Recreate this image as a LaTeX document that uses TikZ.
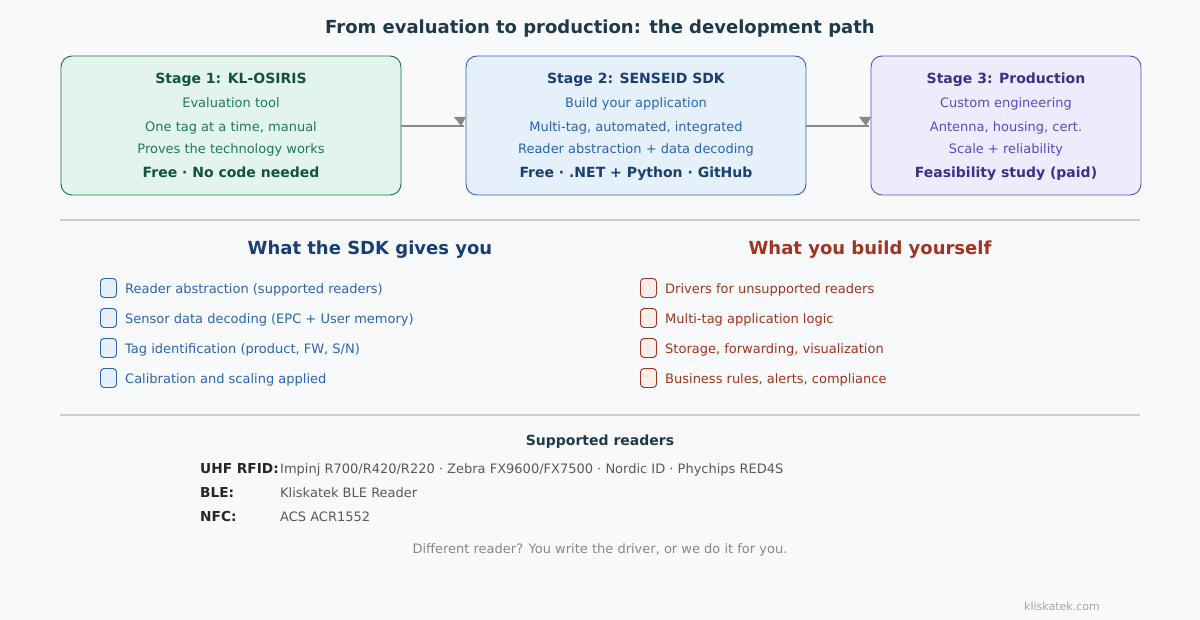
\documentclass[tikz,border=0pt]{standalone}
\usepackage{fontspec}
\setmainfont{DejaVu Sans}
\definecolor{bg}{HTML}{F8F9FB}
\definecolor{gfill}{HTML}{E2F4EC}
\definecolor{gdraw}{HTML}{1A7050}
\definecolor{gtext}{HTML}{1F7A5A}
\definecolor{gdark}{HTML}{14523C}
\definecolor{bfill}{HTML}{E6F0FB}
\definecolor{bdraw}{HTML}{2A64B0}
\definecolor{bdark}{HTML}{173F74}
\definecolor{pfill}{HTML}{EEECFC}
\definecolor{pdraw}{HTML}{5A4AC0}
\definecolor{pdark}{HTML}{3C2F8C}
\definecolor{rfill}{HTML}{FBEEE8}
\definecolor{rdraw}{HTML}{A0341E}
\definecolor{titlec}{HTML}{1E3A4A}
\definecolor{arr}{HTML}{888888}
\definecolor{sep}{HTML}{CCCCCC}
\tikzset{
  fs/.style={font=\fontsize{#1}{#1}\selectfont},
  fsb/.style={font=\fontsize{#1}{#1}\selectfont\bfseries},
  stagebox/.style={draw=#1, line width=0.9pt, rounded corners=11pt},
  txt/.style={inner sep=0pt, anchor=mid},
  chk/.style={draw=#1, line width=0.9pt, rounded corners=3.5pt, minimum width=16pt, minimum height=19pt, inner sep=0pt},
  link/.style={draw=arr, line width=1.6pt},
  tip/.style={fill=arr},
}
\begin{document}
\begin{tikzpicture}[x=1pt,y=-1pt]
\useasboundingbox (0,0) rectangle (1200,620);
\fill[bg] (0,0) rectangle (1200,620);
\node[txt, fsb=18, text=titlec] (title) at (600,31) {From evaluation to production: the development path};

% stage boxes
\draw[stagebox=gdraw, fill=gfill] (61,56) rectangle (401,195);
\draw[stagebox=bdraw, fill=bfill] (466,56) rectangle (806,195);
\draw[stagebox=pdraw, fill=pfill] (871,56) rectangle (1141,195);
\coordinate (s1r) at (401,126);
\coordinate (s2l) at (464,126);
\coordinate (s2r) at (806,126);
\coordinate (s3l) at (869,126);

\node[txt, fsb=14, text=gdark] (s1t) at (231,81) {Stage 1: KL-OSIRIS};
\node[txt, fs=13, text=gtext] (s1a) at (231,105) {Evaluation tool};
\node[txt, fs=13, text=gtext] (s1b) at (231,129) {One tag at a time, manual};
\node[txt, fs=13, text=gtext] (s1c) at (231,151) {Proves the technology works};
\node[txt, fsb=14, text=gdark] (s1d) at (231,175) {Free · No code needed};

\node[txt, fsb=14, text=bdark] (s2t) at (636,81) {Stage 2: SENSEID SDK};
\node[txt, fs=13, text=bdraw] (s2a) at (636,105) {Build your application};
\node[txt, fs=13, text=bdraw] (s2b) at (636,129) {Multi-tag, automated, integrated};
\node[txt, fs=13, text=bdraw] (s2c) at (636,151) {Reader abstraction + data decoding};
\node[txt, fsb=14, text=bdark] (s2d) at (636,175) {Free · .NET + Python · GitHub};

\node[txt, fsb=14, text=pdark] (s3t) at (1006,81) {Stage 3: Production};
\node[txt, fs=13, text=pdraw] (s3a) at (1006,105) {Custom engineering};
\node[txt, fs=13, text=pdraw] (s3b) at (1006,129) {Antenna, housing, cert.};
\node[txt, fs=13, text=pdraw] (s3c) at (1006,151) {Scale + reliability};
\node[txt, fsb=14, text=pdark] (s3d) at (1006,175) {Feasibility study (paid)};

% connectors
\draw[link] (s1r) -- (s2l);
\fill[tip] (454,117) -- (466,117) -- (461,126) -- cycle;
\draw[link] (s2r) -- (s3l);
\fill[tip] (859,117) -- (871,117) -- (866,126) -- cycle;

% separators
\draw[sep, line width=1.2pt] (60,220) -- (1140,220);
\draw[sep, line width=1.2pt] (60,415) -- (1140,415);

\node[txt, fsb=18, text=bdark] (h1) at (370,252) {What the SDK gives you};
\node[txt, fsb=18, text=rdraw] (h2) at (870,252) {What you build yourself};

\foreach \i/\t [count=\n] in {288/Reader abstraction (supported readers),318/Sensor data decoding (EPC + User memory),348/{Tag identification (product, FW, S/N)},378/Calibration and scaling applied}{
  \node[chk=bdraw, fill=bfill] (lc\n) at (108.5,\i) {};
  \node[txt, anchor=mid west, fs=13, text=bdraw] (lt\n) at (125,\i+3) {\t};
}
\foreach \i/\t [count=\n] in {288/Drivers for unsupported readers,318/Multi-tag application logic,348/{Storage, forwarding, visualization},378/{Business rules, alerts, compliance}}{
  \node[chk=rdraw, fill=rfill] (rc\n) at (648.5,\i) {};
  \node[txt, anchor=mid west, fs=13, text=rdraw] (rt\n) at (665,\i+3) {\t};
}

\node[txt, fsb=14, text=titlec] (sr) at (600,443) {Supported readers};
\node[txt, anchor=mid west, fsb=13.7, text=black!85] (l1) at (200,471) {UHF RFID:};
\node[txt, anchor=mid west, fsb=13.7, text=black!85] (l2) at (200,495) {BLE:};
\node[txt, anchor=mid west, fsb=13.7, text=black!85] (l3) at (200,519) {NFC:};
\node[txt, anchor=mid west, fs=13, text=black!65] (v1) at (280,471) {Impinj R700/R420/R220 · Zebra FX9600/FX7500 · Nordic ID · Phychips RED4S};
\node[txt, anchor=mid west, fs=13, text=black!65] (v2) at (280,495) {Kliskatek BLE Reader};
\node[txt, anchor=mid west, fs=13, text=black!65] (v3) at (280,519) {ACS ACR1552};

\node[txt, fs=13, text=black!47] (foot) at (600,551) {Different reader? You write the driver, or we do it for you.};
\node[txt, fs=11, text=black!35] (brand) at (1062,608) {kliskatek.com};
\end{tikzpicture}
\end{document}
